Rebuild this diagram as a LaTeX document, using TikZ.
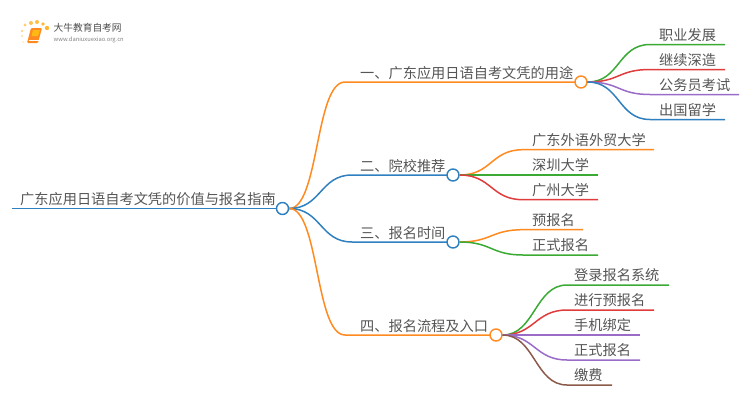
\documentclass[tikz,border=0pt]{standalone}
\usepackage{fontspec}
\setmainfont{Noto Sans CJK SC}
\definecolor{cor}{HTML}{FF8A20}
\definecolor{cbl}{HTML}{2E80C0}
\definecolor{cgr}{HTML}{3AAA35}
\definecolor{cre}{HTML}{E03C3C}
\definecolor{cpu}{HTML}{9A6CC8}
\definecolor{cbr}{HTML}{8C5A4A}
\definecolor{ctx}{HTML}{555555}
\tikzset{
 x=1pt,y=-1pt,
 lbl/.style={anchor=base west,inner sep=0pt,text=ctx,font=\fontsize{14.2}{14.2}\selectfont},
 hub/.style={circle,draw=#1,fill=white,line width=1.4pt,minimum size=12pt,inner sep=0pt},
 wire/.style={line width=1.5pt,#1},
 dot/.style={circle,fill=#1,inner sep=0pt},
}
% tag, from, color, bendx, y, endx, handle
\newcommand{\limb}[7]{%
 \coordinate (#1s) at (#4,#5);
 \coordinate (#1e) at (#6,#5);
 \draw[wire=#3] (#2.east) .. controls +(#7,0) and +(-#7,0) .. (#1s) -- (#1e);
}
\begin{document}
\begin{tikzpicture}
\useasboundingbox (0,0) rectangle (750,410);
% logo
\foreach \px/\py/\pr/\po in {23/42/1/.3,22/36/1.2/.4,22/31/1.4/.5,25/25/1.7/.6,31/23/2/.75,37/22/2/.8,43/24/1.9/.85,47/28/2.2/.9}{
 \node[dot=cor!70!yellow,minimum size=2*\pr pt,opacity=\po] at (\px,\py) {};
}
\fill[cor,rounded corners=1pt] (31,28) -- (42,28) -- (38,43) -- (27,43) -- cycle;
\fill[cor!60!yellow,rounded corners=.5pt] (33,30) -- (40,30) -- (38,36) -- (31.5,36) -- cycle;
\draw[white,line width=.5pt] (28.5,40.5) -- (38.5,40.5);
\node[anchor=base west,inner sep=0pt,text=black!70,font=\fontsize{9.7}{9.7}\selectfont] (logot) at (53.5,31) {大牛教育自考网};
\node[anchor=base west,inner sep=0pt,text=black!50,font=\fontsize{5.8}{5.8}\selectfont] (logou) at (53.5,41) {www.daniuxuexiao.org.cn};
% hubs
\node[hub=cbl] (root) at (282.5,208.5) {};
\node[hub=cor] (a) at (581,82) {};
\node[hub=cbl] (b) at (453,175) {};
\node[hub=cbl] (c) at (453,242) {};
\node[hub=cor] (d) at (496,335) {};
\coordinate (roots) at (12,208.5);
% wires
\draw[wire=cbl] (roots) -- (root.west);
\limb{wra}{root}{cor}{345}{82}{575}{30}
\limb{wrb}{root}{cbl}{352}{175}{447}{32}
\limb{wrc}{root}{cbl}{352}{242}{447}{32}
\limb{wrd}{root}{cor}{345}{335}{490}{30}
\limb{wa1}{a}{cgr}{650}{44.5}{725}{32}
\limb{wa2}{a}{cre}{650}{69.5}{725}{32}
\limb{wa3}{a}{cpu}{650}{94.5}{739}{32}
\limb{wa4}{a}{cbl}{650}{119.5}{725}{32}
\limb{wb1}{b}{cor}{523}{149.7}{654}{32}
\limb{wb2}{b}{cgr}{523}{175}{598}{32}
\limb{wb3}{b}{cre}{523}{199.7}{598}{32}
\limb{wc1}{c}{cor}{523}{229.7}{583}{32}
\limb{wc2}{c}{cgr}{523}{255}{598}{32}
\limb{wd1}{d}{cgr}{567}{285}{669}{32}
\limb{wd2}{d}{cre}{567}{310}{654}{32}
\limb{wd3}{d}{cpu}{567}{335}{640}{32}
\limb{wd4}{d}{cpu}{567}{360}{640}{32}
\limb{wd5}{d}{cbr}{567}{385}{612}{32}
% labels
\node[lbl] (l0) at (20,204.7) {广东应用日语自考文凭的价值与报名指南};
\node[lbl] (l1) at (360,78.2) {一、广东应用日语自考文凭的用途};
\node[lbl] (l2) at (360,171.2) {二、院校推荐};
\node[lbl] (l3) at (360,238.2) {三、报名时间};
\node[lbl] (l4) at (360,331) {四、报名流程及入口};
\node[lbl] (a1) at (659,40.5) {职业发展};
\node[lbl] (a2) at (659,65.5) {继续深造};
\node[lbl] (a3) at (659,90.5) {公务员考试};
\node[lbl] (a4) at (659,115.5) {出国留学};
\node[lbl] (b1) at (532,145.5) {广东外语外贸大学};
\node[lbl] (b2) at (532,170.5) {深圳大学};
\node[lbl] (b3) at (532,195.5) {广州大学};
\node[lbl] (c1) at (532,225.5) {预报名};
\node[lbl] (c2) at (532,250.5) {正式报名};
\node[lbl] (d1) at (574,280.5) {登录报名系统};
\node[lbl] (d2) at (574,305.5) {进行预报名};
\node[lbl] (d3) at (574,330.5) {手机绑定};
\node[lbl] (d4) at (574,355.5) {正式报名};
\node[lbl] (d5) at (574,380.5) {缴费};
\end{tikzpicture}
\end{document}
